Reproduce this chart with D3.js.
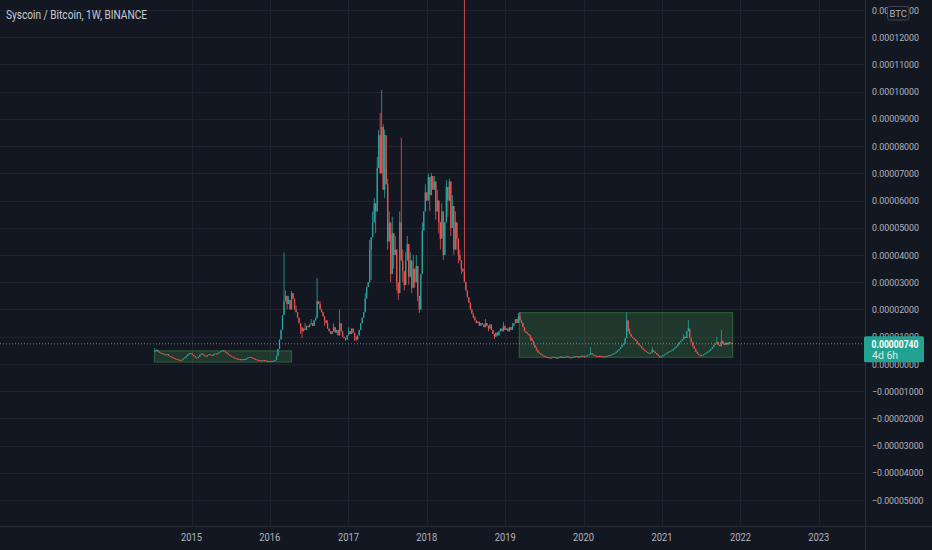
<!DOCTYPE html>
<html><head><meta charset="utf-8">
<script src="https://cdn.jsdelivr.net/npm/d3@7"></script>
<style>html,body{margin:0;padding:0;background:#131722;overflow:hidden}svg{display:block}</style>
</head><body><svg id="c" width="932" height="550"></svg>
<script>
// ---------- DATA (prices in units of 1e-7 BTC) ----------
const title = "Syscoin / Bitcoin, 1W, BINANCE";
const UNIT = 1e-7;
const firstWeek = "2014-07-14";
const firstOpen = 46;
const closes = [
 48,52,45,42, 40,38,35,33,36, 30,28,25,22,20,18,16,15, 14,16,20,24, 30,36,40,38,33,28,
 24,22,26,34, 38,34,30,28,32,36, 33,30,35,38,36, 40,44,47,50,46,42, 38,34,30,27,24,
 22,20,19,18,17,16,18,17, 20,24,26,24,21,19, 17,15,14,13,12,14,13,12,11, 10,11,10,12,14, 30,55,90,
 125,180,230, 250,220,235,200, 260, 240,200,190,170, 150,135,120,130, 125,140,135,145,150,
 140,160,170, 230, 220,200,190,175, 160,150,130,120,110, 120,135,115,125,105, 150,
 120,100,95,90,105, 120,110,130,115, 100,90,105, 125,150,
 170,190,240,283,300,420,466,520,590,560,720,840,700,870,640,840,660,450,520,330,
 480,400,420,300,260,520,380,340,290,380,440,320,380,280,350,300,360,250,200,330,
 490,560,630,600,686,620,690,640,670,560,600,520,460,560,400,520,650,600,670,500,
 580,420,520,460,400,380,350,340,300,270,245,225,200,185,170,
 160,150,155,140,150,145,135,150,140,130,145,125,110,100,115,105,120,
 130,120,140,125,130,120,135,125,140,150,165,150,
 175,160,150,135,120,115,110,105,95,85,70,60,50,42,38,34,30,28,26,
 25,23,22,24,26,24,22,23,25,27,25,24,26,28,26,24,23,25,27,29,27,26,28,30,28,27,30,33,35,
 40,35,32,30,29,28,30,29,27,26,28,30,32,33,35,38,40,45,50,55,62,70,
 75,95,160,120,110,100,95,90,85,75,70,65,58,52,48,44,40,38,42,50,45,40,35,30,26,
 28,32,35,38,42,45,48,50,55,60,65,72,80,85,90,100,95,120,130,95,80,
 65,55,45,38,33,30,32,35,38,42,45,50,55,62,70,75,80,70,65,85,75,70,78,72,80,76,74
];
// wick extremes: [week index, value]
const highWicks = [[0,58],[86,409],[87,270],[89,250],[91,268],[94,215],[100,150],[104,165],[108,316],
 [110,230],[115,160],[119,150],[123,200],[129,135],
 [140,260],[143,455],[145,560],[146,610],[148,760],[149,860],[150,921],[151,1006],[152,880],[153,860],
 [154,720],[155,680],[156,560],[157,470],[158,540],[160,470],[163,560],[164,830],[165,420],[167,410],
 [168,470],[170,410],[172,400],[174,400],[178,520],[180,660],[182,700],[184,701],[186,690],[188,640],
 [191,590],[194,675],[196,680],[198,620],[200,560],[203,420],[206,2000],
 [213,175],[220,165],[232,155],[238,150],[242,187],[243,190],[290,62],[314,190],[316,130],
 [331,62],[352,110],[355,161],[356,110],[374,99],[377,125]];
const lowWicks = [[88,200],[97,110],[98,95],[113,140],[127,85],[133,85],[134,84],
 [141,250],[144,308],[147,480],[153,610],[155,420],[157,300],[159,350],[161,270],[162,235],[165,300],
 [166,270],[169,290],[171,260],[173,280],[175,230],[176,187],[183,560],[187,530],[189,480],[190,420],
 [192,382],[195,540],[197,470],[199,400],[201,420],[202,370],[204,330],[222,120],[226,92],[250,85],[336,22]];
const yearTicks = [2015,2016,2017,2018,2019,2020,2021,2022,2023];
const priceTicks = [-5,-4,-3,-2,-1,0,1,2,3,4,5,6,7,8,9,10,11,12,13]; // x 1e-5 BTC
const lastPrice = 0.0000074;
const countdown = "4d 6h";
const zones = [
  {from:"2014-07-12", to:"2016-04-11", top:0.0000048, bottom:0.0000007},
  {from:"2019-03-08", to:"2021-11-26", top:0.00001883, bottom:0.00000246}
];

// ---------- CHART ----------
const W = 932, H = 550, PR = 865, PB = 526;
const svg = d3.select("#c");
const bg = "#131722", grid = "#1f2330", axisCol = "#2a2e39", txt = "#b2b5be";
const up = "#26a69a", down = "#ef5350";
const FONT = "Roboto, 'Noto Sans', sans-serif";

svg.append("rect").attr("width",W).attr("height",H).attr("fill",bg);

const x = d3.scaleTime().domain([new Date(2015,0,1), new Date(2023,0,1)]).range([191.5, 818.8]);
const y = d3.scaleLinear().domain([-0.00005, 0.00012]).range([500.1, 37.2]);

const defs = svg.append("defs");
defs.append("clipPath").attr("id","plot").append("rect").attr("width",PR).attr("height",PB);

// grid
const g = svg.append("g").attr("clip-path","url(#plot)");
g.selectAll("line.h").data(priceTicks).enter().append("line")
  .attr("x1",0).attr("x2",PR).attr("y1",d=>Math.round(y(d*1e-5))+0.5).attr("y2",d=>Math.round(y(d*1e-5))+0.5)
  .attr("stroke",grid).attr("stroke-width",1);
g.selectAll("line.v").data(yearTicks).enter().append("line")
  .attr("y1",0).attr("y2",PB).attr("x1",d=>Math.round(x(new Date(d,0,1)))+0.5).attr("x2",d=>Math.round(x(new Date(d,0,1)))+0.5)
  .attr("stroke",grid).attr("stroke-width",1);

// zones
const parse = d3.timeParse("%Y-%m-%d");
g.selectAll("rect.zone").data(zones).enter().append("rect")
  .attr("x",d=>x(parse(d.from))).attr("width",d=>x(parse(d.to))-x(parse(d.from)))
  .attr("y",d=>y(d.top)).attr("height",d=>y(d.bottom)-y(d.top))
  .attr("fill","rgba(76,175,80,0.22)").attr("stroke","rgba(76,175,80,0.45)").attr("stroke-width",1);

// candles
const start = parse(firstWeek);
const hiMap = new Map(highWicks), loMap = new Map(lowWicks);
const candles = closes.map((c,i)=>{
  const o = i===0 ? firstOpen : closes[i-1];
  const hi = hiMap.has(i) ? hiMap.get(i) : Math.max(o,c);
  const lo = loMap.has(i) ? loMap.get(i) : Math.min(o,c);
  return {date:d3.timeWeek.offset(start,i), o:o*UNIT, c:c*UNIT, h:hi*UNIT, l:lo*UNIT};
});
const cg = g.append("g");
cg.selectAll("rect.w").data(candles).enter().append("rect")
  .attr("x",d=>x(d.date)-0.4).attr("width",0.8)
  .attr("y",d=>y(d.h)).attr("height",d=>Math.max(0.8,y(d.l)-y(d.h)))
  .attr("fill",d=>d.c>=d.o?up:down);
cg.selectAll("rect.b").data(candles).enter().append("rect")
  .attr("x",d=>x(d.date)-0.65).attr("width",1.3)
  .attr("y",d=>y(Math.max(d.o,d.c))).attr("height",d=>Math.max(1,Math.abs(y(d.o)-y(d.c))))
  .attr("fill",d=>d.c>=d.o?up:down);

// last price dotted line
g.append("line").attr("x1",0).attr("x2",PR).attr("y1",y(lastPrice)).attr("y2",y(lastPrice))
  .attr("stroke","rgba(200,204,214,0.55)").attr("stroke-dasharray","1,2").attr("stroke-width",1);

// axes separators
svg.append("line").attr("x1",PR+0.5).attr("x2",PR+0.5).attr("y1",0).attr("y2",H).attr("stroke",axisCol);
svg.append("line").attr("x1",0).attr("x2",W).attr("y1",PB+0.5).attr("y2",PB+0.5).attr("stroke",axisCol);

// y labels
const fmt = v => (v<0?"\u2212":"") + Math.abs(v).toFixed(8);
svg.selectAll("text.yl").data(priceTicks).enter().append("text")
  .attr("x",872).attr("y",d=>y(d*1e-5)+3.6)
  .attr("font-family",FONT).attr("font-size",9.6).attr("fill",txt)
  .attr("textLength",d=>d<0?51.5:47).attr("lengthAdjust","spacingAndGlyphs")
  .text(d=>fmt(d*1e-5));

// x labels
svg.selectAll("text.xl").data(yearTicks).enter().append("text")
  .attr("x",d=>x(new Date(d,0,1))).attr("y",541).attr("text-anchor","middle")
  .attr("font-family",FONT).attr("font-size",11).attr("fill",txt)
  .attr("textLength",21).attr("lengthAdjust","spacingAndGlyphs")
  .text(d=>d);

// title
svg.append("text").attr("x",6).attr("y",18.5)
  .attr("font-family",FONT).attr("font-size",12.5).attr("fill","#c9ccd4")
  .attr("textLength",141).attr("lengthAdjust","spacingAndGlyphs").text(title);

// BTC unit box
svg.append("rect").attr("x",887.5).attr("y",6.5).attr("width",21.5).attr("height",13.5).attr("rx",2)
  .attr("fill",bg).attr("stroke","#434651");
svg.append("text").attr("x",898.3).attr("y",17).attr("text-anchor","middle")
  .attr("font-family",FONT).attr("font-size",9.5).attr("fill",txt).text("BTC");

// last price label
const ly = y(lastPrice);
svg.append("rect").attr("x",864).attr("y",ly-7.5).attr("width",60).attr("height",26).attr("rx",1.5).attr("fill","#22a391");
svg.append("text").attr("x",871.5).attr("y",ly+3.8)
  .attr("font-family",FONT).attr("font-size",10).attr("font-weight","bold").attr("fill","#ffffff")
  .attr("textLength",47).attr("lengthAdjust","spacingAndGlyphs").text(fmt(lastPrice));
svg.append("text").attr("x",872).attr("y",ly+15.5)
  .attr("font-family",FONT).attr("font-size",10.5).attr("fill","rgba(255,255,255,0.82)")
  .text(countdown);
</script></body></html>
